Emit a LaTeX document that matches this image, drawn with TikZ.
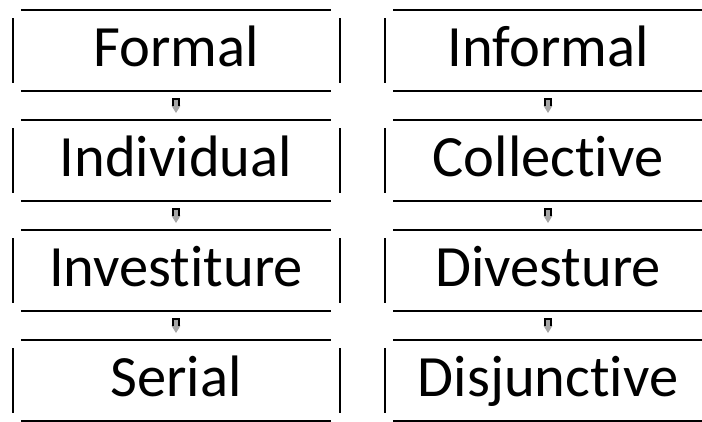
\documentclass[tikz,border=0pt]{standalone}
\usepackage{fontspec}
\setmainfont{Carlito}[Ligatures={NoCommon,NoContextual}]
\usetikzlibrary{calc}
\tikzset{
  box/.style={minimum width=310bp, minimum height=81bp, inner sep=0pt, outer sep=0pt,
    text height=37bp, text depth=5bp, font=\fontsize{58.7pt}{60pt}\selectfont},
  rule/.style={line width=2bp, black},
  pics/smallarrow/.style={code={
    \fill[gray!70] (-3.2,-7.5) -- (-3.2,0) -- (-4.6,0) -- (0,7.5) -- (4.6,0) -- (3.2,0) -- (3.2,-7.5) -- cycle;
    \draw[line width=1.6bp, black] (-3.2,0.5) -- (-3.2,-6.8) -- (3.2,-6.8) -- (3.2,0.5);
  }}
}
\newcommand{\myframe}[1]{%
  \draw[rule] (#1.north west) -- (#1.north east);
  \draw[rule] (#1.south west) -- (#1.south east);
  \draw[rule] ([shift={(-8,8)}]#1.north west) -- ([shift={(-8,73)}]#1.north west);
  \draw[rule] ([shift={(9,8)}]#1.north east) -- ([shift={(9,73)}]#1.north east);
}
\begin{document}
\begin{tikzpicture}[x=1bp,y=-1bp]
\useasboundingbox (0,0) rectangle (702,421);
% left column
\node[box] (f)  at (176,50.5)  {Formal};
\node[box] (in) at (176,160.5) {Individual};
\node[box] (iv) at (176,270.5) {Investiture};
\node[box] (s)  at (176,380.5) {Serial};
% right column
\node[box] (inf) at (548,50.5)  {Informal};
\node[box] (c)   at (548,160.5) {Collective};
\node[box] (d)   at (548,270.5) {Divesture};
\node[box] (dj)  at (548,380.5) {Disjunctive};
\foreach \n in {f,in,iv,s,inf,c,d,dj} {\myframe{\n}}
% arrows
\path ($(f.south)!0.5!(in.north)$) pic {smallarrow};
\path ($(in.south)!0.5!(iv.north)$) pic {smallarrow};
\path ($(iv.south)!0.5!(s.north)$) pic {smallarrow};
\path ($(inf.south)!0.5!(c.north)$) pic {smallarrow};
\path ($(c.south)!0.5!(d.north)$) pic {smallarrow};
\path ($(d.south)!0.5!(dj.north)$) pic {smallarrow};
\end{tikzpicture}
\end{document}
